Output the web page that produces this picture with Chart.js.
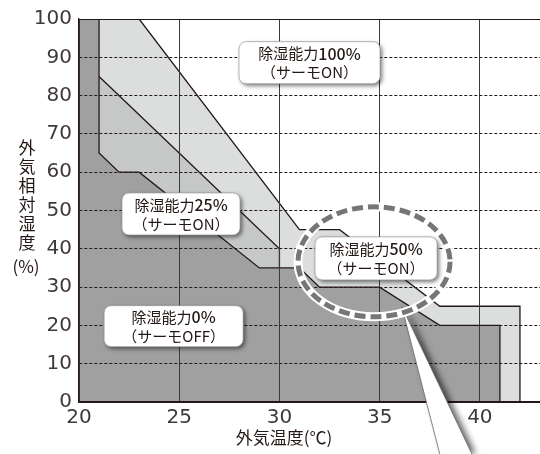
<!DOCTYPE html>
<html>
<head>
<meta charset="utf-8">
<script src="https://cdn.jsdelivr.net/npm/chart.js@4"></script>
<style>
  html, body { margin: 0; padding: 0; background: #fff; }
  #wrap { width: 540px; height: 454px; }
</style>
</head>
<body>
<div id="wrap"><canvas id="humidityChart" width="540" height="454"></canvas></div>
<script>
// zone outlines: outdoor temperature (°C) vs outdoor relative humidity (%)
const zone0Temp  = [20, 21, 21, 22, 23, 29, 31, 32, 35, 38, 41, 41];
const zone0Rh    = [100, 100, 65, 60, 60, 35, 35, 30, 30, 20, 20, 0];
const zone25Temp = [21, 30, 30];
const zone25Rh   = [85, 40, 35];
const zone50Temp = [21, 23, 31, 33, 38, 42, 42];
const zone50Rh   = [100, 100, 45, 45, 25, 25, 0];

const tempTicks = [20, 25, 30, 35, 40];
const rhTicks = [0, 10, 20, 30, 40, 50, 60, 70, 80, 90, 100];

const zoneNames = ['除湿能力', '除湿能力', '除湿能力', '除湿能力'];
const zonePercents = ['0%', '25%', '50%', '100%'];
const zoneModes = ['（サーモOFF）', '（サーモON）', '（サーモON）', '（サーモON）'];

// where the callout boxes sit (data coords) and how big they are (px)
const boxPlaces = [
    { t: 24.72, rh: 19.8, w: 139, h: 41 },
    { t: 25.09, rh: 49.1, w: 118, h: 42 },
    { t: 34.82, rh: 37.5, w: 122, h: 43 },
    { t: 31.5, rh: 88.6, w: 141, h: 42 }
];

const INK = '#231815';
const JP = '"Noto Sans CJK JP", "Noto Sans", sans-serif';

function toPoints(xs, ys) {
    return xs.map((x, i) => ({ x: x, y: ys[i] }));
}

function drawBox(ctx, cx, cy, w, h, name, pct, mode) {
    ctx.save();
    ctx.shadowColor = 'rgba(0,0,0,0.55)';
    ctx.shadowBlur = 4;
    ctx.shadowOffsetX = 2;
    ctx.shadowOffsetY = 2;
    ctx.fillStyle = '#fff';
    ctx.beginPath();
    ctx.roundRect(cx - w / 2, cy - h / 2, w, h, 7);
    ctx.fill();
    ctx.restore();

    ctx.save();
    ctx.strokeStyle = '#9a9a9a';
    ctx.lineWidth = 0.7;
    ctx.beginPath();
    ctx.roundRect(cx - w / 2, cy - h / 2, w, h, 7);
    ctx.stroke();

    ctx.fillStyle = INK;
    ctx.textBaseline = 'middle';
    ctx.textAlign = 'left';
    ctx.font = '15px ' + JP;
    const w1 = ctx.measureText(name).width;
    ctx.font = '500 16px ' + JP;
    const w2 = ctx.measureText(pct).width;
    let sx = cx - (w1 + w2) / 2;
    ctx.font = '15px ' + JP;
    ctx.fillText(name, sx, cy - 9);
    ctx.font = '500 16px ' + JP;
    ctx.fillText(pct, sx + w1, cy - 9);

    ctx.font = '15px ' + JP;
    ctx.textAlign = 'center';
    ctx.fillText(mode, cx, cy + 10);
    ctx.restore();
}

const decorPlugin = {
    id: 'decor',
    afterDraw(chart) {
        const ctx = chart.ctx;
        const xs = chart.scales.x;
        const ys = chart.scales.y;

        // callout wedge
        const ax = xs.getPixelForValue(36.1), ay = ys.getPixelForValue(25);
        const bl = xs.getPixelForValue(38), br = xs.getPixelForValue(39.6);
        const by = chart.height;
        ctx.save();
        ctx.shadowColor = 'rgba(0,0,0,0.6)';
        ctx.shadowBlur = 6;
        ctx.shadowOffsetX = 4;
        ctx.shadowOffsetY = 0;
        ctx.fillStyle = '#fff';
        ctx.beginPath();
        ctx.moveTo(ax, ay);
        ctx.lineTo(br, by);
        ctx.lineTo(bl, by);
        ctx.closePath();
        ctx.fill();
        ctx.restore();
        ctx.save();
        ctx.strokeStyle = '#6a6a6a';
        ctx.lineWidth = 0.8;
        ctx.beginPath();
        ctx.moveTo(bl, by);
        ctx.lineTo(ax, ay);
        ctx.lineTo(br, by);
        ctx.stroke();
        ctx.restore();

        // dashed ring round the 50% box
        const ex = xs.getPixelForValue(34.72), ey = ys.getPixelForValue(36.6);
        ctx.save();
        ctx.beginPath();
        ctx.ellipse(ex, ey, 76, 55, 0, 0, Math.PI * 2);
        ctx.strokeStyle = '#fff';
        ctx.lineWidth = 9;
        ctx.stroke();
        ctx.setLineDash([11, 5]);
        ctx.strokeStyle = '#767676';
        ctx.lineWidth = 5;
        ctx.stroke();
        ctx.restore();

        boxPlaces.forEach((b, i) => {
            drawBox(ctx, xs.getPixelForValue(b.t), ys.getPixelForValue(b.rh), b.w, b.h,
                zoneNames[i], zonePercents[i], zoneModes[i]);
        });

        // axis titles
        ctx.save();
        ctx.fillStyle = INK;
        ctx.textAlign = 'center';
        ctx.textBaseline = 'middle';
        ctx.font = '17px ' + JP;
        const yTitle = ['外', '気', '相', '対', '湿', '度'];
        yTitle.forEach((c, i) => ctx.fillText(c, 27, 148 + i * 19));
        ctx.fillText('(%)', 26, 267);
        ctx.fillText('外気温度(℃)', 284, 438);
        ctx.restore();
    }
};

const ctx = document.getElementById('humidityChart').getContext('2d');
const humidityChart = new Chart(ctx, {
    type: 'line',
    data: {
        datasets: [
            {
                label: '0%',
                data: toPoints(zone0Temp, zone0Rh),
                backgroundColor: '#a0a0a0',
                fill: 'origin'
            },
            {
                label: '25%',
                data: toPoints(zone25Temp, zone25Rh),
                backgroundColor: '#c6c7c7',
                fill: 'origin'
            },
            {
                label: '50%',
                data: toPoints(zone50Temp, zone50Rh),
                backgroundColor: '#dcdddd',
                fill: 'origin'
            }
        ]
    },
    options: {
        responsive: false,
        animation: false,
        layout: { padding: { top: 15, right: 0, left: 0, bottom: 0 } },
        elements: {
            point: { radius: 0 },
            line: { borderColor: INK, borderWidth: 1.3, tension: 0 }
        },
        plugins: {
            legend: { display: false },
            tooltip: { enabled: false }
        },
        scales: {
            x: {
                type: 'linear',
                min: 20,
                max: 43,
                afterBuildTicks: scale => {
                    scale.ticks = tempTicks.map(v => ({ value: v }));
                },
                afterFit: scale => { scale.height = 52; },
                ticks: {
                    z: 1,
                    padding: 4,
                    color: '#3e3a39',
                    font: { family: '"DejaVu Sans"', size: 20 }
                },
                grid: { z: 1, color: '#3e3a39', lineWidth: 1, drawTicks: false },
                border: { z: 1, color: INK, width: 1.3 }
            },
            y: {
                min: 0,
                max: 100,
                afterBuildTicks: scale => {
                    scale.ticks = rhTicks.map(v => ({ value: v }));
                },
                afterFit: scale => { scale.width = 79; },
                ticks: {
                    z: 1,
                    padding: 7,
                    color: '#3e3a39',
                    font: { family: '"DejaVu Sans"', size: 20 }
                },
                grid: {
                    z: 1,
                    color: INK,
                    lineWidth: 1,
                    drawTicks: false
                },
                border: {
                    z: 1,
                    color: INK,
                    width: 1.3,
                    dash: ctx => (ctx.tick && ctx.tick.value > 0 && ctx.tick.value < 100) ? [3, 2] : []
                }
            }
        }
    },
    plugins: [decorPlugin]
});
</script>
</body>
</html>
